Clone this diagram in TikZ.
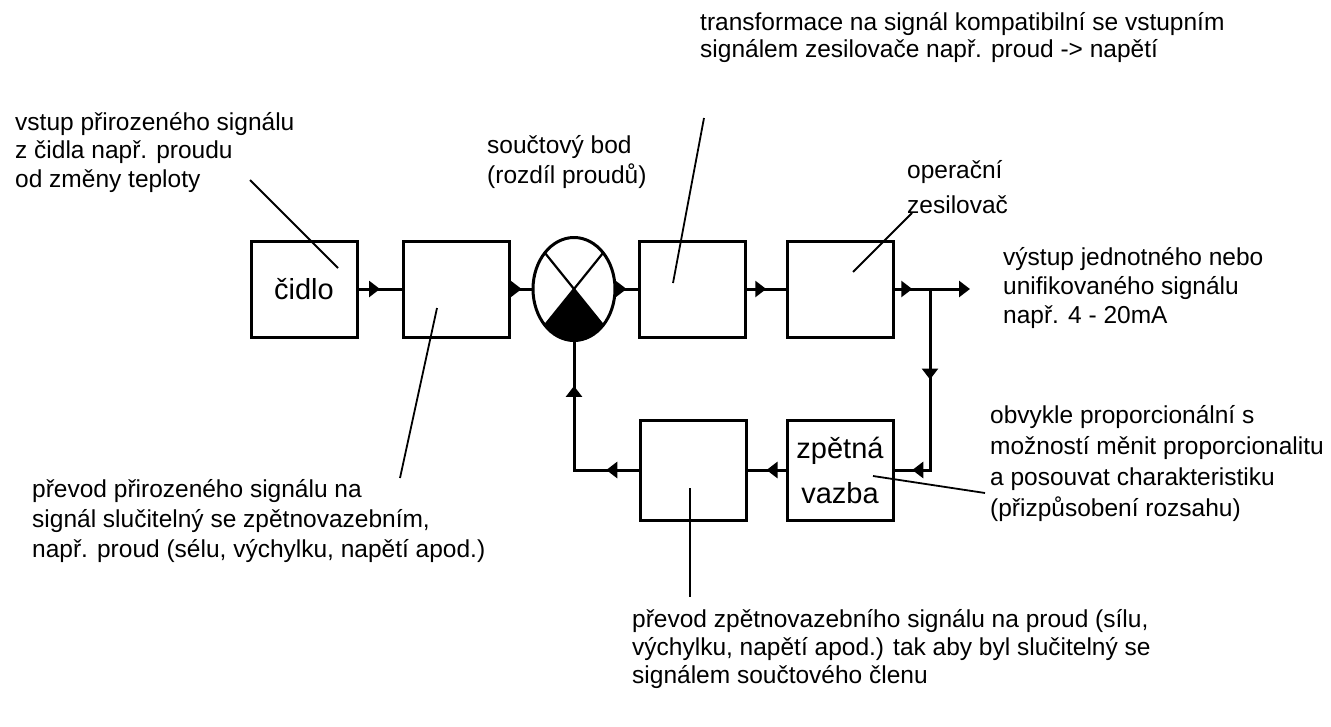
\documentclass[tikz,border=0pt]{standalone}
\usepackage{fontspec}
\setmainfont{Liberation Sans}
\usetikzlibrary{shapes.geometric,arrows.meta,decorations.markings,calc}
\begin{document}
\begin{tikzpicture}[x=1pt,y=-1pt,
  blk/.style={draw, line width=3pt, minimum width=106pt, minimum height=96pt, inner sep=0pt,
              font=\fontsize{29}{45}\selectfont, align=center},
  conn/.style={line width=3pt, line cap=rect},
  mid/.style={postaction={decorate}, decoration={markings,
      mark=at position #1 with {\arrow{Triangle[length=11pt,width=16pt]}}}},
  mid/.default=0.5,
  annline/.style={line width=1.8pt},
  ann/.style={font=\fontsize{24.5}{29}\selectfont, inner sep=0pt, anchor=base west}]
\useasboundingbox (0,0) rectangle (1331,726);
\fill[white] (0,0) rectangle (1331,726);

% blocks
\node[blk] (c1) at (304,289) {čidlo};
\node[blk] (b2) at (456,289) {};
\node[ellipse, minimum width=82pt, minimum height=103pt, inner sep=0pt] (s) at (574,289) {};
\node[blk] (b3) at (692.5,289) {};
\node[blk] (b4) at (840,289) {};
\node[blk, minimum height=100pt] (fb) at (840,470) {\raisebox{-5pt}{\vtop{\baselineskip=45pt\hbox to 90pt{\hss zpětná\hss}\hbox to 90pt{\hss vazba\hss}}}};
\node[blk, minimum height=100pt] (b5) at (693,470) {};

% summing junction
\begin{scope}
  \clip (s.center) -- ++(-60,74) -- ++(120,0) -- cycle;
  \fill (s.center) ellipse[x radius=41pt, y radius=51.5pt];
\end{scope}
\draw[line width=2.2pt] ($(s.center)+(-29,-36)$) -- ($(s.center)+(29,36)$);
\draw[line width=2.2pt] ($(s.center)+(29,-36)$) -- ($(s.center)+(-29,36)$);
\draw[line width=3pt] (s.center) ellipse[x radius=41pt, y radius=51.5pt];

% connectors
\coordinate (j) at (930,289);
\coordinate (out) at (970,289);
\coordinate (jc) at (930,470);
\coordinate (c2) at (574,470);
\draw[conn, mid] (c1.east) -- (b2.west);
\draw[conn, mid] (b2.east) -- (s.west);
\draw[conn, mid] (s.east) -- (b3.west);
\draw[conn, mid] (b3.east) -- (b4.west);
\draw[conn, mid] (b4.east) -- (j);
\draw[conn, -{Triangle[length=11pt,width=16pt]}] (j) -- (out);
\draw[conn, mid] (j) -- (jc);
\draw[conn, mid] (jc) -- (fb.east);
\draw[conn, mid] (fb.west) -- (b5.east);
\draw[conn, mid] (b5.west) -- (c2);
\draw[conn, mid=0.65] (c2) -- (s.south);

% annotation leader lines
\coordinate (l1a) at (250,180); \coordinate (l1b) at (338,268);
\coordinate (l2a) at (437,308); \coordinate (l2b) at (400,478);
\coordinate (l3a) at (673,283); \coordinate (l3b) at (704,118);
\coordinate (l4a) at (853,272); \coordinate (l4b) at (912,213);
\coordinate (l5a) at (873,476); \coordinate (l5b) at (985,493);
\coordinate (l6a) at (690,488); \coordinate (l6b) at (690,597);
\draw[annline] (l1a) -- (l1b);
\draw[annline] (l2a) -- (l2b);
\draw[annline] (l3a) -- (l3b);
\draw[annline] (l4a) -- (l4b);
\draw[annline] (l5a) -- (l5b);
\draw[annline] (l6a) -- (l6b);

% texts
\node[ann] (t1) at (15,130) {\vtop{\baselineskip=28.5pt\hbox{vstup přirozeného signálu}\hbox{z čidla např. proudu}\hbox{od změny teploty}}};
\node[ann] (t2) at (487,153) {\vtop{\baselineskip=30pt\hbox{součtový bod}\hbox{(rozdíl proudů)}}};
\node[ann] (t3) at (700,30) {\vtop{\baselineskip=27.5pt\hbox{transformace na signál kompatibilní se vstupním}\hbox{signálem zesilovače např. proud -> napětí}}};
\node[ann] (t4) at (907,178) {\vtop{\baselineskip=35pt\hbox{operační}\hbox{zesilovač}}};
\node[ann] (t5) at (1003,265) {\vtop{\baselineskip=29pt\hbox{výstup jednotného nebo}\hbox{unifikovaného signálu}\hbox{např. 4 - 20mA}}};
\node[ann] (t6) at (990,423) {\vtop{\baselineskip=31pt\hbox{obvykle proporcionální s}\hbox{možností měnit proporcionalitu}\hbox{a posouvat charakteristiku}\hbox{(přizpůsobení rozsahu)}}};
\node[ann] (t7) at (32,497) {\vtop{\baselineskip=30pt\hbox{převod přirozeného signálu na}\hbox{signál slučitelný se zpětnovazebním,}\hbox{např. proud (sélu, výchylku, napětí apod.)}}};
\node[ann] (t8) at (632,627) {\vtop{\baselineskip=28pt\hbox{převod zpětnovazebního signálu na proud (sílu,}\hbox{výchylku, napětí apod.) tak aby byl slučitelný se}\hbox{signálem součtového členu}}};
\end{tikzpicture}
\end{document}
